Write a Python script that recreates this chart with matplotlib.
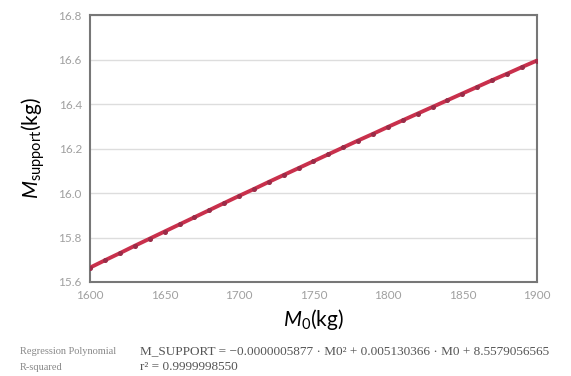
import matplotlib
matplotlib.use("Agg")
import matplotlib.pyplot as plt

plt.rcParams["mathtext.fontset"] = "custom"
plt.rcParams["mathtext.rm"] = "Lato"
plt.rcParams["mathtext.it"] = "Lato:italic"

# M0 (kg) and fitted support mass (kg)
m0 = [1600, 1610, 1620, 1630, 1640, 1650, 1660, 1670, 1680, 1690, 1700,
      1710, 1720, 1730, 1740, 1750, 1760, 1770, 1780, 1790, 1800,
      1810, 1820, 1830, 1840, 1850, 1860, 1870, 1880, 1890, 1900]
m_support = [15.665, 15.698, 15.730, 15.763, 15.795, 15.827, 15.859, 15.891,
             15.923, 15.955, 15.987, 16.018, 16.050, 16.081, 16.112, 16.143,
             16.174, 16.205, 16.236, 16.266, 16.297, 16.327, 16.357, 16.387,
             16.417, 16.447, 16.477, 16.507, 16.536, 16.566, 16.595]

x_ticks = [1600, 1650, 1700, 1750, 1800, 1850, 1900]
y_ticks = [15.6, 15.8, 16.0, 16.2, 16.4, 16.6, 16.8]

fit_label = "Regression Polynomial"
fit_text = "M_SUPPORT = \u22120.0000005877 \u00b7 M0\u00b2 + 0.005130366 \u00b7 M0 + 8.5579056565"
r2_label = "R-squared"
r2_text = "r\u00b2 = 0.9999998550"

fig = plt.figure(figsize=(5.71, 3.76), dpi=100)
ax = fig.add_axes([0.158, 0.250, 0.782, 0.710])

ax.plot(m0, m_support, color="#c9304c", lw=2.8, zorder=3)
ax.plot(m0, m_support, ls="none", marker="o", ms=2.6, color="#9a2c48", zorder=4)

ax.set_xlim(1600, 1900)
ax.set_ylim(15.6, 16.8)
ax.set_xticks(x_ticks)
ax.set_yticks(y_ticks)
ax.set_yticklabels([f"{v:.1f}" for v in y_ticks])
ax.grid(axis="y", color="#dddddd", lw=1)
ax.set_axisbelow(True)
for s in ax.spines.values():
    s.set_color("#777777")
    s.set_linewidth(1.5)
ax.tick_params(axis="both", length=0, pad=6, labelsize=8.5, labelcolor="#a0a0a0")
for lab in ax.get_xticklabels() + ax.get_yticklabels():
    lab.set_family("Lato")

ax.set_xlabel("$M_0$(kg)", fontsize=15, family="Lato", labelpad=4)
ax.set_ylabel("$M_{\\mathrm{support}}$(kg)", fontsize=15, family="Lato", labelpad=8)

fig.text(0.035, 0.058, fit_label, fontsize=7.5, family="Liberation Serif", color="#888888")
fig.text(0.245, 0.058, fit_text, fontsize=9.5, family="Liberation Serif", color="#555555")
fig.text(0.035, 0.016, r2_label, fontsize=7.5, family="Liberation Serif", color="#888888")
fig.text(0.245, 0.016, r2_text, fontsize=9.5, family="Liberation Serif", color="#555555")

fig.savefig("out.png", dpi=100)
